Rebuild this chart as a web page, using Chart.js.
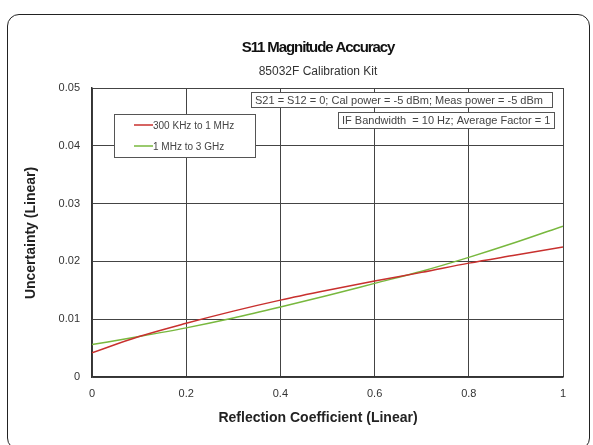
<!DOCTYPE html>
<html>
<head>
<meta charset="utf-8">
<script src="https://cdn.jsdelivr.net/npm/chart.js@4/dist/chart.umd.min.js"></script>
<style>
  html, body { margin: 0; padding: 0; background: #fff; }
  #frame { position: absolute; left: 7px; top: 14px; width: 581px; height: 434px;
           border: 1.5px solid #222; border-radius: 12px; }
  #wrap { position: absolute; left: 0; top: 0; width: 593px; height: 445px; }
</style>
</head>
<body>
<div id="frame"></div>
<div id="wrap"><canvas id="accChart"></canvas></div>
<script>
// reflection coefficient samples
var xValues = [0, 0.1, 0.2, 0.3, 0.4, 0.5, 0.6, 0.7, 0.8, 0.9, 1.0];
// 300 KHz to 1 MHz
var lowBand = [0.0042, 0.0070, 0.0093, 0.0114, 0.0133, 0.0150, 0.0166, 0.0181, 0.0197, 0.0211, 0.0225];
// 1 MHz to 3 GHz
var highBand = [0.0056, 0.0070, 0.0085, 0.0102, 0.0121, 0.0141, 0.0162, 0.0183, 0.0207, 0.0233, 0.0261];
var seriesNames = ["300 KHz to 1 MHz", "1 MHz to 3 GHz"];
var xTicks = ["0", "0.2", "0.4", "0.6", "0.8", "1"];
var yTicks = ["0", "0.01", "0.02", "0.03", "0.04", "0.05"];
var notes = ["S21 = S12 = 0; Cal power = -5 dBm; Meas power = -5 dBm",
             "IF Bandwidth  = 10 Hz; Average Factor = 1"];
var titleText = "S11 Magnitude Accuracy";
var subtitleText = "85032F Calibration Kit";
var xTitle = "Reflection Coefficient (Linear)";
var yTitle = "Uncertainty (Linear)";

function pts(ys) {
  return xValues.map(function (x, i) { return { x: x, y: ys[i] }; });
}

var FONT = '"Liberation Sans", Arial, sans-serif';

// titles, annotation boxes and the little legend are drawn on top
var decorations = {
  id: 'decorations',
  afterDraw: function (chart) {
    var ctx = chart.ctx;
    ctx.save();
    ctx.fillStyle = '#111';
    ctx.textAlign = 'center';
    ctx.textBaseline = 'middle';
    ctx.font = 'bold 15px ' + FONT;
    ctx.letterSpacing = '-1.1px';
    ctx.fillText(titleText, 318, 48);
    ctx.letterSpacing = '0px';
    ctx.fillStyle = '#333';
    ctx.font = '12px ' + FONT;
    ctx.fillText(subtitleText, 318, 72);

    ctx.fillStyle = '#222';
    ctx.font = 'bold 14px ' + FONT;
    ctx.fillText(xTitle, 318, 418);
    ctx.save();
    ctx.translate(31, 233);
    ctx.rotate(-Math.PI / 2);
    ctx.fillText(yTitle, 0, 0);
    ctx.restore();

    // note boxes, right aligned near top of plot
    ctx.font = '11px ' + FONT;
    ctx.textAlign = 'left';
    var boxes = [[251, 92, 552, 107], [338, 112, 554, 128]];
    notes.forEach(function (t, i) {
      var b = boxes[i];
      ctx.fillStyle = '#fff';
      ctx.fillRect(b[0], b[1], b[2] - b[0], b[3] - b[1]);
      ctx.strokeStyle = '#555';
      ctx.lineWidth = 1;
      ctx.strokeRect(b[0] + 0.5, b[1] + 0.5, b[2] - b[0], b[3] - b[1]);
      ctx.fillStyle = '#444';
      ctx.fillText(t, b[0] + 4, (b[1] + b[3]) / 2 + 1);
    });

    // legend
    var lx = 114, ly = 114, lw = 141, lh = 43;
    ctx.fillStyle = '#fff';
    ctx.fillRect(lx, ly, lw, lh);
    ctx.strokeStyle = '#555';
    ctx.strokeRect(lx + 0.5, ly + 0.5, lw, lh);
    ctx.font = '10px ' + FONT;
    chart.data.datasets.forEach(function (ds, i) {
      var y = ly + 11 + i * 21;
      ctx.strokeStyle = ds.borderColor;
      ctx.lineWidth = 1.5;
      ctx.beginPath();
      ctx.moveTo(134, y);
      ctx.lineTo(153, y);
      ctx.stroke();
      ctx.fillStyle = '#444';
      ctx.fillText(ds.label, 153, y + 1);
    });
    ctx.restore();
  }
};

new Chart("accChart", {
  type: "line",
  data: {
    datasets: [{
      label: seriesNames[0],
      data: pts(lowBand),
      borderColor: "#c8302e",
      borderWidth: 1.5,
      pointRadius: 0,
      cubicInterpolationMode: "monotone"
    }, {
      label: seriesNames[1],
      data: pts(highBand),
      borderColor: "#78b83e",
      borderWidth: 1.5,
      pointRadius: 0,
      cubicInterpolationMode: "monotone"
    }]
  },
  options: {
    responsive: true,
    maintainAspectRatio: false,
    animation: false,
    layout: { padding: { top: 88, right: 30, bottom: 0, left: 0 } },
    plugins: {
      legend: { display: false },
      title: { display: false },
      tooltip: { enabled: false }
    },
    scales: {
      x: {
        type: "linear",
        min: 0, max: 1,
        afterFit: function (s) { s.height = 68; },
        ticks: {
          stepSize: 0.2,
          padding: 10,
          color: "#333",
          font: { family: FONT, size: 11 },
          callback: function (v, i) { return xTicks[i]; }
        },
        grid: { color: "#444", lineWidth: 1, drawTicks: false },
        border: { color: "#333", width: 1.5 }
      },
      y: {
        min: 0, max: 0.05,
        afterFit: function (s) { s.width = 92; },
        ticks: {
          stepSize: 0.01,
          padding: 12,
          color: "#333",
          font: { family: FONT, size: 11 },
          callback: function (v, i) { return yTicks[i]; }
        },
        grid: { color: "#444", lineWidth: 1, drawTicks: false },
        border: { color: "#333", width: 1.5 }
      }
    }
  },
  plugins: [decorations]
});
</script>
</body>
</html>
